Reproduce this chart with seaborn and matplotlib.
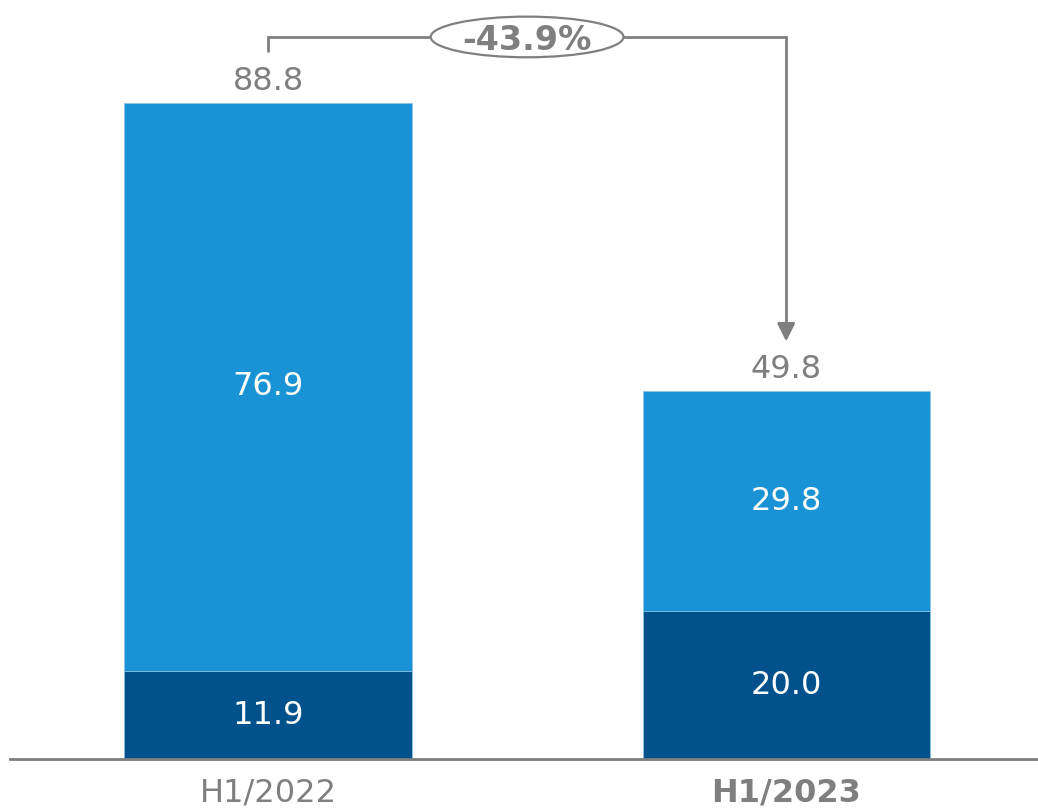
import matplotlib
matplotlib.use("Agg")
import matplotlib.pyplot as plt
from matplotlib.patches import Ellipse
import seaborn as sns
import pandas as pd

# Half-year figures, split into two components
periods = ["H1/2022", "H1/2023"]
base_part = [11.9, 20.0]
upper_part = [76.9, 29.8]
totals = [88.8, 49.8]
change_label = "-43.9%"

light_blue = "#1A93D6"
dark_blue = "#00518C"
grey = "#7F7F7F"

sns.set_theme(style="white")
plt.rcParams["font.family"] = ["DejaVu Sans"]

df = pd.DataFrame({"period": periods, "base": base_part,
                   "upper": upper_part, "total": totals})

fig = plt.figure(figsize=(10.38, 8.08), dpi=100)
ax = fig.add_axes([0.0096, 0.0606, 0.9904, 0.9394])

bar_w = 0.554
# full-height bars first, then the lower component on top of them
sns.barplot(data=df, x="period", y="total", color=light_blue, width=bar_w,
            saturation=1, ax=ax, edgecolor="#8EC5E8", linewidth=0.6)
sns.barplot(data=df, x="period", y="base", color=dark_blue, width=bar_w,
            saturation=1, ax=ax, edgecolor="#8EC5E8", linewidth=0.6)

ax.set_xlim(-0.498, 1.486)
ax.set_ylim(0, 102.7)

fs = 23
for i in range(len(periods)):
    b, u, t = base_part[i], upper_part[i], totals[i]
    ax.text(i, b / 2, f"{b:.1f}", ha="center", va="center", color="white", fontsize=fs)
    ax.text(i, b + u / 2, f"{u:.1f}", ha="center", va="center", color="white", fontsize=fs)
    ax.annotate(f"{t:.1f}", (i, t), xytext=(0, 4), textcoords="offset points",
                ha="center", va="bottom", color=grey, fontsize=fs)

# change bracket between the two totals
y_line = 97.7
ell_w, ell_h = 0.372, 5.5
ax.plot([0, 0, 0.5 - ell_w / 2], [95.7, y_line, y_line], color=grey, lw=2,
        solid_capstyle="butt", solid_joinstyle="miter")
ax.plot([0.5 + ell_w / 2, 1, 1], [y_line, y_line, 58.5], color=grey, lw=2,
        solid_capstyle="butt", solid_joinstyle="miter")
ax.annotate("", xy=(1, 56.5), xytext=(1, 59.0),
            arrowprops=dict(arrowstyle="-|>,head_length=0.9,head_width=0.45",
                            color=grey, lw=2, shrinkA=0, shrinkB=0))
ax.add_patch(Ellipse((0.5, y_line), ell_w, ell_h, facecolor="white",
                     edgecolor=grey, lw=1.6, zorder=3))
ax.text(0.5, y_line, change_label, ha="center", va="center_baseline", color=grey,
        fontsize=24, fontweight="bold", zorder=4)

# axes styling: only a grey baseline
for s in ["top", "right", "left"]:
    ax.spines[s].set_visible(False)
ax.spines["bottom"].set_color(grey)
ax.spines["bottom"].set_linewidth(2)
ax.set_yticks([])
ax.set_xlabel("")
ax.set_ylabel("")
ax.tick_params(axis="x", length=0, pad=13, labelsize=fs, labelcolor=grey)
labels = ax.get_xticklabels()
labels[1].set_fontweight("bold")

fig.savefig("out.png", dpi=100)
